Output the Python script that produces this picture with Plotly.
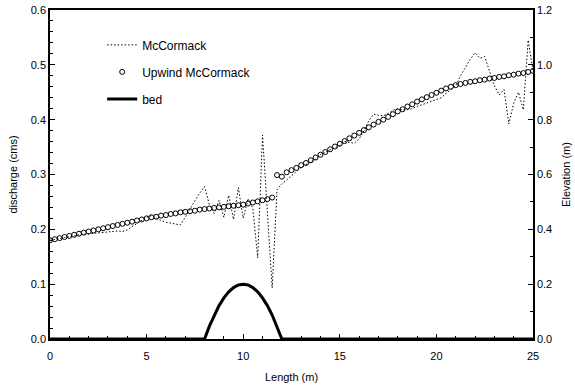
import plotly.graph_objects as go

# Channel positions (m), 0.25 m node spacing
length_m = [i * 0.25 for i in range(101)]

# Discharge (cms) computed with the plain McCormack scheme
q_mccormack = [
    0.180, 0.181, 0.183, 0.185, 0.186, 0.188, 0.190, 0.191, 0.192, 0.193,
    0.193, 0.194, 0.195, 0.196, 0.197, 0.196, 0.199, 0.205, 0.211, 0.217,
    0.222, 0.225, 0.220, 0.216, 0.213, 0.211, 0.209, 0.208, 0.222, 0.238,
    0.252, 0.266, 0.278, 0.245, 0.229, 0.253, 0.222, 0.262, 0.218, 0.276,
    0.220, 0.256, 0.238, 0.148, 0.372, 0.232, 0.093, 0.272, 0.283, 0.290,
    0.298, 0.306, 0.313, 0.318, 0.323, 0.328, 0.336, 0.341, 0.345, 0.349,
    0.353, 0.360, 0.358, 0.357, 0.365, 0.380, 0.398, 0.410, 0.408, 0.407,
    0.411, 0.417, 0.420, 0.418, 0.418, 0.420, 0.424, 0.427, 0.430, 0.433,
    0.436, 0.440, 0.448, 0.455, 0.462, 0.480, 0.495, 0.510, 0.522, 0.512,
    0.515, 0.490, 0.462, 0.445, 0.455, 0.392, 0.430, 0.450, 0.418, 0.545,
    0.490,
]

# Discharge (cms) computed with the upwind McCormack scheme
q_upwind = [
    0.180, 0.182, 0.184, 0.186, 0.188, 0.190, 0.192, 0.194, 0.196, 0.198,
    0.200, 0.202, 0.204, 0.206, 0.208, 0.210, 0.212, 0.214, 0.216, 0.218,
    0.220, 0.222, 0.223, 0.225, 0.226, 0.228, 0.229, 0.231, 0.232, 0.233,
    0.234, 0.236, 0.237, 0.238, 0.239, 0.240, 0.241, 0.242, 0.243, 0.244,
    0.245, 0.247, 0.249, 0.251, 0.253, 0.255, 0.258, 0.299, 0.296, 0.304,
    0.308, 0.312, 0.317, 0.321, 0.326, 0.331, 0.336, 0.341, 0.346, 0.351,
    0.356, 0.361, 0.366, 0.371, 0.376, 0.381, 0.386, 0.391, 0.396, 0.400,
    0.405, 0.410, 0.415, 0.419, 0.424, 0.428, 0.433, 0.437, 0.441, 0.445,
    0.449, 0.453, 0.457, 0.460, 0.463, 0.465, 0.467, 0.469, 0.470, 0.472,
    0.473, 0.475, 0.476, 0.478, 0.479, 0.481, 0.482, 0.484, 0.485, 0.487,
    0.489,
]

# Bed elevation (m): flat channel with a hump between 8 and 12 m
bed_x = [0, 8.0, 8.25, 8.5, 8.75, 9.0, 9.25, 9.5, 9.75, 10.0,
         10.25, 10.5, 10.75, 11.0, 11.25, 11.5, 11.75, 12.0, 25]
bed_z = [0.0, 0.0, 0.0469, 0.0875, 0.1219, 0.15, 0.1719, 0.1875, 0.1969, 0.2,
         0.1969, 0.1875, 0.1719, 0.15, 0.1219, 0.0875, 0.0469, 0.0, 0.0]

FONT = "Liberation Sans, Arial, sans-serif"

fig = go.Figure()
fig.add_trace(go.Scatter(
    x=length_m, y=q_mccormack, mode="lines", name="McCormack",
    legendgroup="a",
    line=dict(color="black", width=1, dash="1.5px,2px"),
))
fig.add_trace(go.Scatter(
    x=length_m, y=q_upwind, mode="markers", name="Upwind McCormack",
    legendgroup="b",
    marker=dict(symbol="circle-open", size=5, color="black",
                line=dict(width=1, color="black")),
))
fig.add_trace(go.Scatter(
    x=bed_x, y=bed_z, mode="lines", name="bed", yaxis="y2",
    legendgroup="c",
    line=dict(color="black", width=3),
))

axis_common = dict(
    showline=True, linecolor="black", linewidth=1.5,
    ticks="inside", tickcolor="black", ticklen=5, tickwidth=1,
    showgrid=False, zeroline=False, automargin=False,
    tickfont=dict(family=FONT, size=11, color="black"),
)

fig.update_layout(
    width=575, height=389,
    margin=dict(l=50, r=42, t=10, b=50),
    paper_bgcolor="white", plot_bgcolor="white",
    font=dict(family=FONT, size=11, color="black"),
    showlegend=True,
    legend=dict(
        x=0.108, y=0.938, xanchor="left", yanchor="top",
        bgcolor="rgba(0,0,0,0)", borderwidth=0,
        font=dict(family=FONT, size=12, color="black"),
        tracegroupgap=8,
    ),
    xaxis=dict(
        range=[0, 25], dtick=5, mirror=True, ticklabelstandoff=6,
        minor=dict(dtick=1, ticks="inside", ticklen=3, tickcolor="black"),
        title=dict(text="Length (m)", standoff=12,
                   font=dict(family=FONT, size=11)),
        **axis_common,
    ),
    yaxis=dict(
        range=[0, 0.6], dtick=0.1, tickformat=".1f",
        minor=dict(dtick=0.02, ticks="inside", ticklen=3, tickcolor="black"),
        title=dict(text="discharge (cms)", standoff=11,
                   font=dict(family=FONT, size=11)),
        **axis_common,
    ),
    yaxis2=dict(
        range=[0, 1.2], dtick=0.2, tickformat=".1f",
        overlaying="y", side="right",
        minor=dict(dtick=0.1, ticks="inside", ticklen=3, tickcolor="black"),
        title=dict(text="Elevation (m)", standoff=11,
                   font=dict(family=FONT, size=11)),
        **axis_common,
    ),
)

fig.write_html("out.html")
